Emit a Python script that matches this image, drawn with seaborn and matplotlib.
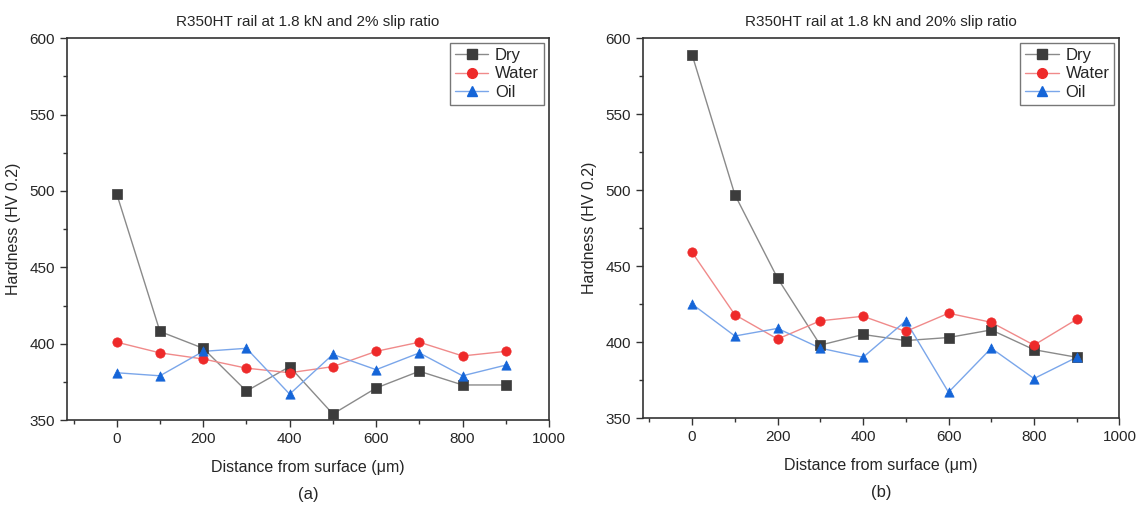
import matplotlib
matplotlib.use("Agg")
import matplotlib.pyplot as plt
import seaborn as sns
import pandas as pd
from matplotlib.ticker import MultipleLocator

# distance from surface (um)
distance = [0, 100, 200, 300, 400, 500, 600, 700, 800, 900]

# (a) 2% slip ratio
dry_a = [498, 408, 397, 369, 385, 354, 371, 382, 373, 373]
water_a = [401, 394, 390, 384, 381, 385, 395, 401, 392, 395]
oil_a = [381, 379, 395, 397, 367, 393, 383, 394, 379, 386]

# (b) 20% slip ratio
dry_b = [589, 497, 442, 398, 405, 401, 403, 408, 395, 390]
water_b = [459, 418, 402, 414, 417, 407, 419, 413, 398, 415]
oil_b = [425, 404, 409, 396, 390, 414, 367, 396, 376, 390]

conditions = ["Dry", "Water", "Oil"]
titles = ["R350HT rail at 1.8 kN and 2% slip ratio",
          "R350HT rail at 1.8 kN and 20% slip ratio"]
panel_labels = ["(a)", "(b)"]

colors = {"Dry": "#3c3c3c", "Water": "#ee2a2a", "Oil": "#1565d8"}
line_colors = {"Dry": "#8a8a8a", "Water": "#f08a8a", "Oil": "#7aa6ea"}
markers = {"Dry": "s", "Water": "o", "Oil": "^"}


def to_long(dry, water, oil):
    rows = []
    for name, vals in zip(conditions, [dry, water, oil]):
        for d, v in zip(distance, vals):
            rows.append({"Distance": d, "Hardness": v, "Condition": name})
    return pd.DataFrame(rows)


sns.set_style("ticks")
plt.rcParams["font.family"] = ["Liberation Sans", "DejaVu Sans"]

fig = plt.figure(figsize=(11.4, 5.08), dpi=100)
ax_a = fig.add_axes([0.0588, 0.173, 0.4228, 0.752])
ax_b = fig.add_axes([0.564, 0.177, 0.418, 0.748])

panels = [(ax_a, to_long(dry_a, water_a, oil_a)),
          (ax_b, to_long(dry_b, water_b, oil_b))]

for i, (ax, df) in enumerate(panels):
    # thin light connecting lines
    sns.lineplot(data=df, x="Distance", y="Hardness", hue="Condition",
                 palette=line_colors, linewidth=1.0, ax=ax, legend=False)
    # markers on top
    for name in conditions:
        sub = df[df["Condition"] == name]
        sns.scatterplot(data=sub, x="Distance", y="Hardness", color=colors[name],
                        marker=markers[name], s=45, edgecolor=colors[name],
                        linewidth=0.5, ax=ax, zorder=3)
    ax.set_xlim(-115, 1000)
    ax.set_ylim(350, 600)
    ax.xaxis.set_major_locator(MultipleLocator(200))
    ax.xaxis.set_minor_locator(MultipleLocator(100))
    ax.yaxis.set_major_locator(MultipleLocator(50))
    ax.yaxis.set_minor_locator(MultipleLocator(25))
    ax.tick_params(which="major", length=5, width=1, labelsize=11, color="#333333")
    ax.tick_params(which="minor", length=3, width=1, color="#333333")
    for sp in ax.spines.values():
        sp.set_visible(True)
        sp.set_color("#333333")
        sp.set_linewidth(1.2)
    ax.set_xlabel("Distance from surface (μm)", fontsize=11.5, labelpad=10)
    ax.set_ylabel("Hardness (HV 0.2)", fontsize=11.5, labelpad=6)
    ax.set_title(titles[i], fontsize=11, pad=9)
    ax.text(0.5, -0.195, panel_labels[i], transform=ax.transAxes,
            ha="center", va="center", fontsize=12)

    handles = [plt.Line2D([], [], color=line_colors[n], linewidth=1.0,
                          marker=markers[n], markersize=7,
                          markerfacecolor=colors[n], markeredgecolor=colors[n])
               for n in conditions]
    leg = ax.legend(handles, conditions, loc="upper right", fontsize=12,
                    frameon=True, fancybox=False, edgecolor="#555555",
                    handlelength=2.0, borderpad=0.3, labelspacing=0.2,
                    handletextpad=0.4, borderaxespad=0.3)
    leg.get_frame().set_linewidth(1.0)

fig.savefig("out.png", dpi=100)
